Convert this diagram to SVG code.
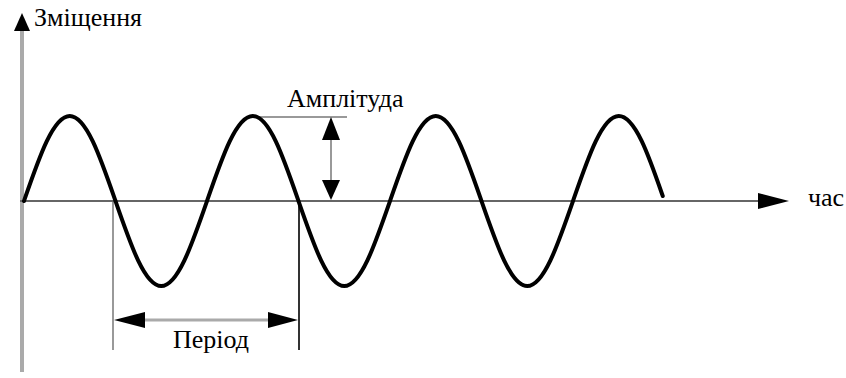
<svg xmlns="http://www.w3.org/2000/svg" width="846" height="378" viewBox="0 0 846 378">
<style>
  text { font-family: 'Liberation Serif', 'Times New Roman', serif; fill: #000; font-size: 26px; }
  .head { fill: #000; stroke: none; }
</style>
<rect width="846" height="378" fill="#fff"/>
<g id="connectors">
  <line id="y-axis" x1="22" y1="372" x2="22" y2="28" stroke="#aaa" stroke-width="4"/>
  <polygon class="head" points="22,13 14,31 30,31"/>
  <line id="x-axis" x1="20" y1="201" x2="762" y2="201" stroke="#666" stroke-width="2"/>
  <polygon class="head" points="789,201 758,193 758,209"/>
  <line x1="254" y1="117" x2="347" y2="117" stroke="#999" stroke-width="2"/>
  <line x1="331" y1="135" x2="331" y2="185" stroke="#999" stroke-width="2"/>
  <polygon class="head" points="331,117 322,140 340,140"/>
  <polygon class="head" points="331,200 322,180 340,180"/>
  <line x1="113" y1="202" x2="113" y2="350" stroke="#999" stroke-width="2"/>
  <line x1="299" y1="202" x2="299" y2="350" stroke="#333" stroke-width="2"/>
  <line x1="140" y1="320" x2="272" y2="320" stroke="#aaa" stroke-width="3"/>
  <polygon class="head" points="114,320 145,312 145,328"/>
  <polygon class="head" points="298,320 268,312 268,328"/>
</g>
<g id="wave">
  <path d="M24,201 c15.29,-44.1 29.27,-85 45.75,-85 s30.46,40.9 45.75,85 s29.27,85 45.75,85 s30.46,-40.9 45.75,-85 s29.27,-85 45.75,-85 s30.46,40.9 45.75,85 s29.27,85 45.75,85 s30.46,-40.9 45.75,-85 s29.27,-85 45.75,-85 s30.46,40.9 45.75,85 s29.27,85 45.75,85 s30.46,-40.9 45.75,-85 s29.27,-85 45.75,-85 s30.46,40.9 44,80" fill="none" stroke="#000" stroke-width="4" stroke-linecap="round"/>
</g>
<g id="label-displacement"><text x="34" y="26">Зміщення</text></g>
<g id="label-amplitude"><text x="287" y="107">Амплітуда</text></g>
<g id="label-period"><text x="173" y="348">Період</text></g>
<g id="label-time"><text x="808" y="206" font-size="24">час</text></g>
</svg>
